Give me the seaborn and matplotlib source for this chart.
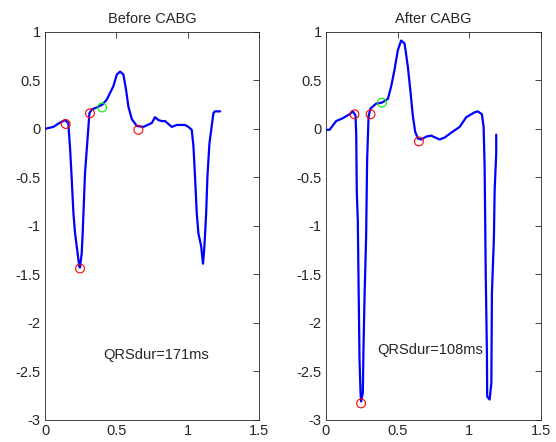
import matplotlib
matplotlib.use("Agg")
import matplotlib.pyplot as plt
import pandas as pd
import seaborn as sns

# ECG beat traces (time in s, amplitude in mV)
before_t = [0.0, 0.058, 0.10, 0.14, 0.163, 0.175, 0.185, 0.199, 0.21, 0.222, 0.24, 0.245,
            0.257, 0.264, 0.28, 0.297, 0.311, 0.327, 0.362, 0.402, 0.432, 0.479, 0.503,
            0.526, 0.549, 0.568, 0.584, 0.608, 0.643, 0.689, 0.748, 0.771, 0.795, 0.818,
            0.841, 0.888, 0.923, 0.981, 1.005, 1.028, 1.04, 1.051, 1.063, 1.075, 1.094,
            1.107, 1.115, 1.122, 1.129, 1.138, 1.152, 1.168, 1.18, 1.19, 1.227]
before_v = [0.0, 0.02, 0.06, 0.09, 0.06, -0.19, -0.46, -0.87, -1.07, -1.21, -1.42, -1.43,
            -1.28, -1.07, -0.46, -0.12, 0.16, 0.20, 0.22, 0.25, 0.30, 0.44, 0.56,
            0.59, 0.56, 0.40, 0.23, 0.10, 0.03, 0.02, 0.06, 0.12, 0.09, 0.08,
            0.08, 0.02, 0.04, 0.04, 0.02, -0.01, -0.18, -0.49, -0.87, -1.08, -1.21,
            -1.39, -1.25, -1.07, -0.87, -0.49, -0.15, 0.03, 0.16, 0.18, 0.18]

after_t = [0.0, 0.026, 0.072, 0.119, 0.165, 0.188, 0.207, 0.212, 0.216, 0.223, 0.228, 0.235,
           0.242, 0.246, 0.258, 0.262, 0.27, 0.281, 0.288, 0.298, 0.312, 0.351, 0.391,
           0.433, 0.456, 0.479, 0.502, 0.525, 0.549, 0.572, 0.591, 0.607, 0.623, 0.642,
           0.665, 0.70, 0.735, 0.749, 0.793, 0.828, 0.874, 0.933, 0.979, 1.037, 1.06,
           1.088, 1.10, 1.107, 1.111, 1.115, 1.123, 1.125, 1.142, 1.154, 1.158, 1.172,
           1.177, 1.188, 1.188]
after_v = [-0.01, -0.01, 0.08, 0.11, 0.15, 0.18, 0.14, -0.06, -0.66, -0.94, -1.56, -2.38,
           -2.72, -2.81, -2.72, -2.31, -1.73, -1.11, -0.32, 0.13, 0.21, 0.26, 0.27,
           0.31, 0.44, 0.61, 0.81, 0.91, 0.88, 0.64, 0.37, 0.13, -0.03, -0.10,
           -0.11, -0.08, -0.07, -0.08, -0.11, -0.09, -0.04, 0.02, 0.12, 0.17, 0.18,
           0.15, 0.02, -0.39, -0.94, -1.52, -2.31, -2.76, -2.79, -2.62, -1.69, -1.11,
           -0.63, -0.25, -0.06]

# detected fiducial points
before_red_t = [0.145, 0.245, 0.315, 0.654]
before_red_v = [0.05, -1.44, 0.16, -0.01]
before_green_t = [0.40]
before_green_v = [0.22]

after_red_t = [0.20, 0.246, 0.312, 0.649]
after_red_v = [0.15, -2.83, 0.15, -0.13]
after_green_t = [0.391]
after_green_v = [0.27]

titles = ["Before CABG", "After CABG"]
qrs_labels = ["QRSdur=171ms", "QRSdur=108ms"]
qrs_pos = [(0.41, -2.33), (0.358, -2.28)]

sns.set_theme(style="white")
plt.rcParams['font.family'] = ['Liberation Sans', 'DejaVu Sans']

fig = plt.figure(figsize=(5.56, 4.42), dpi=100)
ax1 = fig.add_axes([0.081, 0.050, 0.385, 0.878])
ax2 = fig.add_axes([0.586, 0.050, 0.387, 0.878])

panels = [
    (ax1, before_t, before_v, before_red_t, before_red_v, before_green_t, before_green_v),
    (ax2, after_t, after_v, after_red_t, after_red_v, after_green_t, after_green_v),
]

for i, (ax, t, v, rt, rv, gt, gv) in enumerate(panels):
    df = pd.DataFrame({"t": t, "v": v})
    sns.lineplot(data=df, x="t", y="v", sort=False, estimator=None,
                 color="#0000ff", linewidth=1.6, ax=ax)
    sns.scatterplot(x=rt, y=rv, marker="o", s=40, facecolors="none",
                    edgecolors="#ff0000", linewidth=0.8, ax=ax, zorder=3)
    sns.scatterplot(x=gt, y=gv, marker="o", s=40, facecolors="none",
                    edgecolors="#00ee00", linewidth=0.8, ax=ax, zorder=3)
    ax.text(qrs_pos[i][0], qrs_pos[i][1], qrs_labels[i], fontsize=10.5,
            color="#262626", ha="left", va="center")
    ax.set_xlim(0, 1.5)
    ax.set_ylim(-3, 1)
    ax.set_xticks([0, 0.5, 1, 1.5])
    ax.set_xticklabels(["0", "0.5", "1", "1.5"])
    ax.set_yticks([-3, -2.5, -2, -1.5, -1, -0.5, 0, 0.5, 1])
    ax.set_yticklabels(["-3", "-2.5", "-2", "-1.5", "-1", "-0.5", "0", "0.5", "1"])
    ax.set_xlabel("")
    ax.set_ylabel("")
    ax.set_title(titles[i], fontsize=10.5, color="#262626", pad=6)
    ax.tick_params(direction="in", top=True, right=True, length=4, width=0.6,
                   labelsize=10.5, colors="#262626", pad=3)
    for s in ax.spines.values():
        s.set_color("#262626")
        s.set_linewidth(0.6)

plt.savefig("out.png", dpi=100)
plt.close()
